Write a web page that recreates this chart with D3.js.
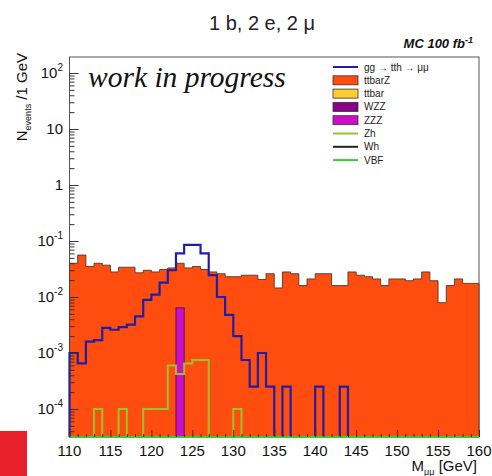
<!DOCTYPE html>
<html>
<head>
<meta charset="utf-8">
<script src="https://cdn.jsdelivr.net/npm/d3@7"></script>
<style>
  html, body { margin: 0; padding: 0; background: #fff; }
  svg { display: block; }
  text { font-family: "Liberation Sans", Arial, sans-serif; }
</style>
</head>
<body>
<svg id="chart" width="492" height="476"></svg>
<script>
// Dimuon invariant mass, 1 GeV bins from 110 to 160 GeV
const binLow = d3.range(110, 160);

// ttbarZ background (filled)
const ttbarZ = [
  0.040, 0.056, 0.035, 0.040, 0.037, 0.028, 0.034, 0.034, 0.027, 0.030,
  0.028, 0.031, 0.033, 0.040, 0.033, 0.035, 0.031, 0.028, 0.026, 0.023,
  0.023, 0.0245, 0.0245, 0.0205, 0.026, 0.0145, 0.028, 0.026, 0.016, 0.021,
  0.026, 0.026, 0.016, 0.016, 0.028, 0.0245, 0.023, 0.021, 0.016, 0.021,
  0.021, 0.0195, 0.021, 0.028, 0.0195, 0.0079, 0.016, 0.021, 0.0175, 0.0175
];

// gg -> tth -> mumu signal (outline)
const signal = [
  1.0e-3, 6.5e-4, 1.6e-3, 1.7e-3, 2.8e-3, 2.6e-3, 2.9e-3, 3.2e-3, 4.5e-3, 8.9e-3,
  1.1e-2, 1.8e-2, 3.0e-2, 6.0e-2, 8.5e-2, 8.5e-2, 6.0e-2, 2.45e-2, 1.0e-2, 4.8e-3,
  2.0e-3, 7.5e-4, 2.5e-4, 1.0e-3, 2.5e-4, 0, 2.5e-4, 0, 0, 0,
  2.5e-4, 0, 0, 2.5e-4, 0, 0, 0, 0, 0, 0,
  0, 0, 0, 0, 0, 0, 0, 0, 0, 0
];

// ZZZ (filled)
const zzz = [
  0, 0, 0, 0, 0, 0, 0, 0, 0, 0,
  0, 0, 0, 6.4e-3, 0, 0, 0, 0, 0, 0,
  0, 0, 0, 0, 0, 0, 0, 0, 0, 0,
  0, 0, 0, 0, 0, 0, 0, 0, 0, 0,
  0, 0, 0, 0, 0, 0, 0, 0, 0, 0
];

// Zh (outline)
const zh = [
  0, 0, 0, 1e-4, 0, 0, 1e-4, 0, 0, 1e-4,
  1e-4, 1e-4, 6.0e-4, 4.2e-4, 6.5e-4, 7.5e-4, 7.5e-4, 0, 0, 0,
  1e-4, 0, 0, 0, 0, 0, 0, 0, 0, 0,
  0, 0, 0, 0, 0, 0, 0, 0, 0, 0,
  0, 0, 0, 0, 0, 0, 0, 0, 0, 0
];

// Wh and VBF have no entries in this mass window
const wh = [
  0, 0, 0, 0, 0, 0, 0, 0, 0, 0, 0, 0, 0, 0, 0, 0, 0, 0, 0, 0, 0, 0, 0, 0, 0,
  0, 0, 0, 0, 0, 0, 0, 0, 0, 0, 0, 0, 0, 0, 0, 0, 0, 0, 0, 0, 0, 0, 0, 0, 0
];
const vbf = [
  0, 0, 0, 0, 0, 0, 0, 0, 0, 0, 0, 0, 0, 0, 0, 0, 0, 0, 0, 0, 0, 0, 0, 0, 0,
  0, 0, 0, 0, 0, 0, 0, 0, 0, 0, 0, 0, 0, 0, 0, 0, 0, 0, 0, 0, 0, 0, 0, 0, 0
];

const xTicks = [110, 115, 120, 125, 130, 135, 140, 145, 150, 155, 160];
const yDecades = [-4, -3, -2, -1, 0, 1, 2];

const legendItems = [
  { label: "gg \u2192 tth \u2192 \u03bc\u03bc", kind: "line", color: "#1f1fa6" },
  { label: "ttbarZ", kind: "box", color: "#ff4d10" },
  { label: "ttbar", kind: "box", color: "#ffcc33" },
  { label: "WZZ", kind: "box", color: "#8a008a" },
  { label: "ZZZ", kind: "box", color: "#cc10c8" },
  { label: "Zh", kind: "line", color: "#9ac22e" },
  { label: "Wh", kind: "line", color: "#222222" },
  { label: "VBF", kind: "line", color: "#33cc33" }
];

const svg = d3.select("#chart");

// red corner block
svg.append("rect").attr("x", 0).attr("y", 431).attr("width", 27).attr("height", 45)
  .attr("fill", "#e8202a");

const frameL = 69.5, frameR = 479, frameT = 57, frameB = 437;
const yMin = 3.16e-5, yMax = 193;

const x = d3.scaleLinear().domain([110, 160]).range([frameL, frameR]);
const y = d3.scaleLog().domain([yMin, yMax]).range([frameB, frameT]);
const yv = v => (v > 0 ? y(v) : frameB);

// frame
svg.append("rect").attr("x", frameL).attr("y", frameT)
  .attr("width", frameR - frameL).attr("height", frameB - frameT)
  .attr("fill", "none").attr("stroke", "#555").attr("stroke-width", 1);

function stepPath(values) {
  const p = d3.path();
  p.moveTo(x(110), frameB);
  values.forEach((v, i) => {
    p.lineTo(x(binLow[i]), yv(v));
    p.lineTo(x(binLow[i] + 1), yv(v));
  });
  p.lineTo(x(160), frameB);
  return p.toString();
}

const plot = svg.append("g");

// ttbarZ filled
plot.append("path").attr("d", stepPath(ttbarZ) + "Z")
  .attr("fill", "#ff4d10").attr("stroke", "#4a3a30").attr("stroke-width", 0.9);

// ZZZ filled bars
plot.selectAll("rect.zzz").data(binLow.filter((b, i) => zzz[i] > 0))
  .join("rect").attr("class", "zzz")
  .attr("x", b => x(b)).attr("width", b => x(b + 1) - x(b))
  .attr("y", b => y(zzz[b - 110])).attr("height", b => frameB - y(zzz[b - 110]))
  .attr("fill", "#cc10c8").attr("stroke", "#3a1040").attr("stroke-width", 0.8);

// outline histograms
plot.append("path").attr("d", stepPath(signal))
  .attr("fill", "none").attr("stroke", "#1f1fa6").attr("stroke-width", 2.2);
plot.append("path").attr("d", stepPath(zh))
  .attr("fill", "none").attr("stroke", "#9ac22e").attr("stroke-width", 2);
plot.append("path").attr("d", stepPath(wh))
  .attr("fill", "none").attr("stroke", "#222").attr("stroke-width", 2);
plot.append("path").attr("d", stepPath(vbf))
  .attr("fill", "none").attr("stroke", "#33cc33").attr("stroke-width", 2);

// x axis ticks (inside) and labels
const xAxis = d3.axisBottom(x).tickValues(d3.range(110, 161)).tickSizeOuter(0)
  .tickSize(-3).tickFormat("");
const gx = svg.append("g").attr("transform", `translate(0,${frameB})`).call(xAxis);
gx.select(".domain").remove();
gx.selectAll(".tick line").attr("stroke", "#333")
  .attr("y2", d => (d % 5 === 0 ? -7 : -3));

svg.selectAll("text.xlab").data(xTicks).join("text").attr("class", "xlab")
  .attr("x", d => x(d)).attr("y", 456).attr("text-anchor", "middle")
  .attr("font-size", 15).attr("fill", "#111").text(d => d);

// y axis ticks (inside, log minor ticks)
const yTickVals = [];
for (let k = -5; k <= 2; k++) {
  for (let m = 1; m <= 9; m++) {
    const v = m * Math.pow(10, k);
    if (v >= yMin && v <= yMax) yTickVals.push(v);
  }
}
const yAxis = d3.axisLeft(y).tickValues(yTickVals).tickSizeOuter(0)
  .tickSize(-5).tickFormat("");
const gy = svg.append("g").attr("transform", `translate(${frameL},0)`).call(yAxis);
gy.select(".domain").remove();
gy.selectAll(".tick line").attr("stroke", "#333")
  .attr("x2", d => (Math.abs(Math.log10(d) - Math.round(Math.log10(d))) < 1e-9 ? 9 : 5));

const ylab = svg.selectAll("text.ylab").data(yDecades).join("text").attr("class", "ylab")
  .attr("x", 63).attr("y", d => y(Math.pow(10, d)) + 5)
  .attr("text-anchor", "end").attr("font-size", 15).attr("fill", "#111");
ylab.each(function (d) {
  const t = d3.select(this);
  if (d === 0) { t.text("1"); return; }
  if (d === 1) { t.text("10"); return; }
  t.append("tspan").text("10");
  t.append("tspan").attr("dy", -7).attr("font-size", 10).text(d);
});

// axis titles
const xt = svg.append("text").attr("x", 477).attr("y", 471).attr("text-anchor", "end")
  .attr("font-size", 15).attr("fill", "#111");
xt.append("tspan").text("M");
xt.append("tspan").attr("dy", 4).attr("font-size", 9).text("\u03bc\u03bc");
xt.append("tspan").attr("dy", -4).text(" [GeV]");

const yt = svg.append("text").attr("transform", "translate(27,53) rotate(-90)")
  .attr("text-anchor", "end").attr("font-size", 15).attr("fill", "#111");
yt.append("tspan").text("N");
yt.append("tspan").attr("dy", 4).attr("font-size", 9).text("events");
yt.append("tspan").attr("dy", -4).text(" /1 GeV");

// title and annotations
svg.append("text").attr("x", 262).attr("y", 30).attr("text-anchor", "middle")
  .attr("font-size", 20).attr("fill", "#222").text("1 b, 2 e, 2 \u03bc");

const mc = svg.append("text").attr("x", 473).attr("y", 48).attr("text-anchor", "end")
  .attr("font-size", 13).attr("font-weight", "bold").attr("font-style", "italic")
  .attr("fill", "#111");
mc.append("tspan").text("MC 100 fb");
mc.append("tspan").attr("dy", -5).attr("font-size", 9).text("-1");

svg.append("text").attr("x", 88).attr("y", 87)
  .style("font-family", "'Liberation Serif', 'Times New Roman', serif")
  .attr("font-style", "italic").attr("font-size", 29.5).attr("fill", "#111")
  .text("work in progress");

// legend
const lg = svg.append("g");
legendItems.forEach((it, i) => {
  const cy = 67 + i * 13.3;
  if (it.kind === "line") {
    lg.append("line").attr("x1", 333).attr("x2", 358).attr("y1", cy).attr("y2", cy)
      .attr("stroke", it.color).attr("stroke-width", 2);
  } else {
    lg.append("rect").attr("x", 333).attr("y", cy - 4.5).attr("width", 25).attr("height", 9)
      .attr("fill", it.color).attr("stroke", "#333").attr("stroke-width", 0.8);
  }
  lg.append("text").attr("x", 364).attr("y", cy + 3.5).attr("font-size", 10)
    .attr("fill", "#222").text(it.label);
});
</script>
</body>
</html>
